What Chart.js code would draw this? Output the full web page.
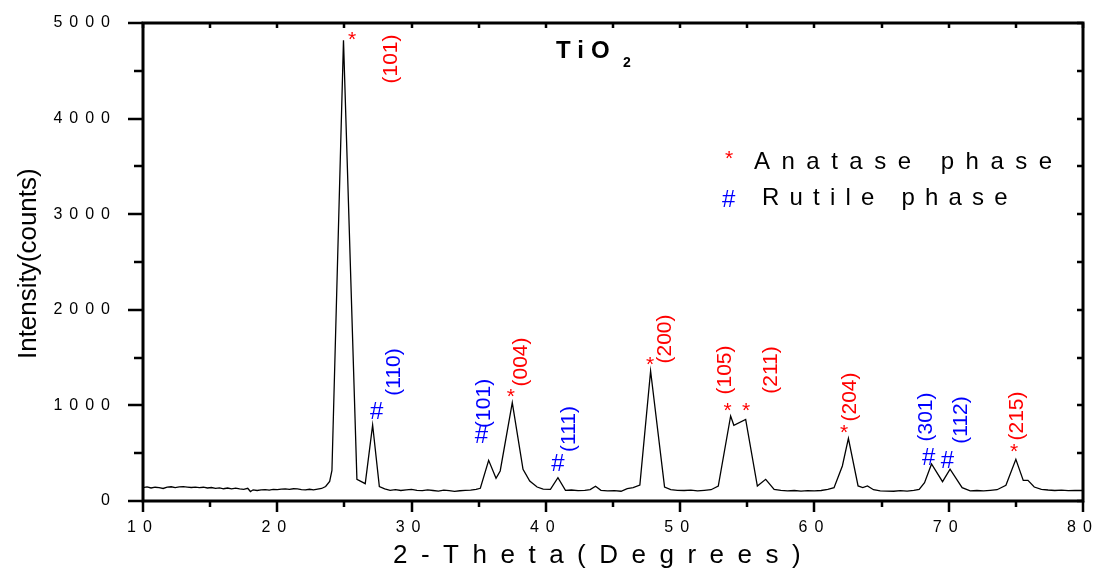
<!DOCTYPE html>
<html>
<head>
<meta charset="utf-8">
<title>TiO2 XRD pattern</title>
<script src="https://cdn.jsdelivr.net/npm/chart.js@4/dist/chart.umd.min.js"></script>
<style>
  html, body { margin: 0; padding: 0; background: #ffffff; }
  #plot { display: block; }
</style>
</head>
<body>
<canvas id="plot" width="1097" height="571"></canvas>
<script>
// Diffraction angle (degrees, 2θ)
const twoTheta = [
  10.0, 10.3, 10.6, 10.9, 11.2, 11.5, 11.8, 12.1, 12.4, 12.7,
  13.0, 13.3, 13.6, 13.9, 14.2, 14.5, 14.8, 15.1, 15.4, 15.7,
  16.0, 16.3, 16.6, 16.9, 17.2, 17.5, 17.8, 18.0, 18.2, 18.5,
  18.8, 19.1, 19.4, 19.7, 20.0, 20.3, 20.6, 20.9, 21.2, 21.5,
  21.8, 22.1, 22.4, 22.7, 23.0, 23.3, 23.6, 23.9, 24.07, 24.93,
  25.93, 26.55, 27.1, 27.6, 28.0, 28.4, 28.8, 29.2, 29.6, 30.0,
  30.4, 30.8, 31.2, 31.6, 32.0, 32.4, 32.8, 33.2, 33.6, 34.0,
  34.4, 34.8, 35.12, 35.74, 36.29, 36.6, 37.5, 38.3, 38.8, 39.35,
  39.8, 40.34, 40.9, 41.46, 41.9, 42.4, 42.9, 43.3, 43.7, 44.1,
  44.6, 45.1, 45.6, 46.06, 46.5, 47.0, 47.8, 48.84, 49.3, 49.8,
  50.3, 50.8, 51.3, 51.8, 52.3, 52.84, 53.76, 54.0, 54.88, 55.75,
  56.37, 57.0, 57.5, 58.0, 58.5, 59.0, 59.5, 60.0, 60.5, 61.0,
  61.46, 62.08, 62.53, 63.25, 63.6, 63.95, 64.4, 64.9, 65.4, 65.9,
  66.4, 66.9, 67.4, 67.8, 68.2, 68.72, 69.54, 70.1, 71.0, 71.6,
  72.1, 72.6, 73.1, 73.6, 74.26, 75.0, 75.55, 75.9, 76.37, 76.9,
  77.4, 77.9, 78.4, 78.9, 79.4, 80.0
];

// Measured intensity (counts)
const intensity = [
  140, 148, 136, 144, 139, 131, 146, 149, 140, 147,
  150, 146, 141, 145, 139, 144, 136, 141, 132, 138,
  128, 136, 126, 134, 127, 121, 133, 99, 117, 110,
  116, 119, 114, 121, 118, 124, 127, 122, 128, 126,
  120, 117, 123, 116, 124, 131, 152, 205, 320, 4819,
  227, 181, 795, 150, 126, 112, 118, 110, 116, 121,
  112, 108, 117, 110, 104, 113, 108, 101, 107, 111,
  114, 121, 133, 425, 237, 314, 1028, 331, 209, 146,
  125, 122, 244, 112, 115, 108, 112, 119, 155, 112,
  105, 108, 102, 129, 140, 167, 1360, 146, 118, 112,
  110, 114, 106, 112, 118, 157, 889, 792, 854, 157,
  227, 122, 112, 106, 110, 104, 108, 106, 110, 121,
  139, 366, 656, 157, 141, 157, 118, 106, 104, 102,
  108, 104, 112, 122, 192, 387, 202, 332, 139, 105,
  110, 106, 112, 118, 164, 436, 216, 216, 146, 122,
  115, 110, 114, 108, 112, 110
];

// Axis ticks
const xMajorTicks = [10, 20, 30, 40, 50, 60, 70, 80];
const xMinorTicks = [15, 25, 35, 45, 55, 65, 75];
const yMajorTicks = [0, 1000, 2000, 3000, 4000, 5000];
const yMinorTicks = [500, 1500, 2500, 3500, 4500];

// Indexed reflections: peak position (2θ), phase and Miller indices
const reflectionAt    = [24.93, 27.1, 35.74, 37.5, 40.9, 47.8, 53.76, 54.88, 62.53, 68.72, 70.1, 75.0];
const reflectionPhase = ['A', 'R', 'R', 'A', 'R', 'A', 'A', 'A', 'A', 'R', 'R', 'A'];
const reflectionHkl   = ['(101)', '(110)', '(101)', '(004)', '(111)', '(200)', '(105)', '(211)', '(204)', '(301)', '(112)', '(215)'];

// Text
const sampleName = 'TiO';
const sampleSub = '2';
const legendNames = ['Anatase phase', 'Rutile phase'];
const xTitle = '2-Theta(Degrees)';
const yTitle = 'Intensity(counts)';

// ---- presentation ----
const FONT = '"Liberation Sans", Arial, sans-serif';
const RED = '#ff0000';
const BLUE = '#0000ff';
const phaseStyle = { A: { sym: '*', color: RED, size: 21 }, R: { sym: '#', color: BLUE, size: 24 } };

// label placement relative to the peak top: [symbol dx, symbol dy, text dx, text dy]
const labelOffsets = [
  [8.5, -4.3, 48.5, 18.7],
  [4.4, -14.3, 21.4, -53],
  [-7, -25.4, -3.7, -57],
  [-1.6, -9.7, 9.4, -40.7],
  [0.3, -14.7, 12, -48.7],
  [-0.6, -10, 14.4, -32],
  [-3.2, -9.3, -5.5, -46],
  [0.4, -12.7, 26.1, -49.4],
  [-4.4, -9, 1.6, -41.3],
  [-2.5, -8, -5.5, -47],
  [-2.3, -10, 11.7, -49.3],
  [-1.9, -11, 2.1, -43.3]
];

function glyphBox(ctx, text) {
  const m = ctx.measureText(text);
  return { asc: m.actualBoundingBoxAscent, desc: m.actualBoundingBoxDescent,
           left: m.actualBoundingBoxLeft, right: m.actualBoundingBoxRight };
}

// draw text so that its ink box is centred on (cx, cy)
function centredText(ctx, text, cx, cy) {
  ctx.textAlign = 'left';
  ctx.textBaseline = 'alphabetic';
  const b = glyphBox(ctx, text);
  const w = b.left + b.right;
  ctx.fillText(text, cx - w / 2 + b.left, cy + (b.asc - b.desc) / 2);
}

// vertical text reading bottom-to-top, ink box centred on (cx, cy)
function verticalText(ctx, text, cx, cy) {
  ctx.save();
  ctx.translate(cx, cy);
  ctx.rotate(-Math.PI / 2);
  centredText(ctx, text, 0, 0);
  ctx.restore();
}

// keep the plot area fixed regardless of tick label overhang
function fixScale(size, key) {
  return s => {
    s[key] = size;
    s.paddingTop = 0; s.paddingBottom = 0; s.paddingLeft = 0; s.paddingRight = 0;
  };
}

const frameAndLabels = {
  id: 'frameAndLabels',
  beforeDraw(chart) {
    chart.ctx.letterSpacing = '7px';
  },
  beforeDatasetsDraw(chart) {
    chart.ctx.letterSpacing = '0px';
  },
  afterDraw(chart) {
    const ctx = chart.ctx;
    const { left, right, top, bottom } = chart.chartArea;
    const xs = chart.scales.x, ys = chart.scales.y;
    ctx.save();
    ctx.letterSpacing = '0px';
    ctx.strokeStyle = '#000';
    ctx.lineCap = 'butt';

    // axis frame
    ctx.lineWidth = 3;
    ctx.beginPath();
    ctx.moveTo(left, top); ctx.lineTo(right, top);
    ctx.moveTo(right, top - 1.5); ctx.lineTo(right, bottom + 1.5);
    ctx.moveTo(left, bottom); ctx.lineTo(right + 1.5, bottom);
    ctx.moveTo(left, top - 1.5); ctx.lineTo(left, bottom + 1.5);
    ctx.stroke();

    // ticks
    ctx.lineWidth = 2.5;
    ctx.beginPath();
    yMajorTicks.concat(yMinorTicks).forEach(v => {
      const py = Math.round(ys.getPixelForValue(v));
      const len = yMajorTicks.includes(v) ? 15 : 9;
      ctx.moveTo(left, py); ctx.lineTo(left - len, py);
      ctx.moveTo(right, py); ctx.lineTo(right - 6, py);
    });
    xMajorTicks.concat(xMinorTicks).forEach(v => {
      const px = Math.round(xs.getPixelForValue(v));
      const len = xMajorTicks.includes(v) ? 11 : 6;
      ctx.moveTo(px, bottom); ctx.lineTo(px, bottom + len);
      ctx.moveTo(px, top); ctx.lineTo(px, top + 5);
    });
    ctx.stroke();

    // reflection labels
    reflectionAt.forEach((pos, i) => {
      const peak = intensity[twoTheta.indexOf(pos)];
      const px = xs.getPixelForValue(pos);
      const py = ys.getPixelForValue(peak);
      const st = phaseStyle[reflectionPhase[i]];
      const o = labelOffsets[i];
      ctx.fillStyle = st.color;
      ctx.font = st.size + 'px ' + FONT;
      centredText(ctx, st.sym, px + o[0], py + o[1]);
      ctx.font = '21px ' + FONT;
      verticalText(ctx, reflectionHkl[i], px + o[2], py + o[3]);
    });

    // sample name
    ctx.fillStyle = '#000';
    ctx.textAlign = 'left';
    ctx.textBaseline = 'alphabetic';
    ctx.font = 'bold 24px ' + FONT;
    ctx.letterSpacing = '7px';
    ctx.fillText(sampleName, 556, 58);
    ctx.font = 'bold 14px ' + FONT;
    ctx.letterSpacing = '0px';
    ctx.fillText(sampleSub, 623, 66.5);

    // phase key
    ctx.font = '21px ' + FONT;
    ctx.fillStyle = RED;
    centredText(ctx, '*', 729, 155);
    ctx.font = '24px ' + FONT;
    ctx.fillStyle = BLUE;
    centredText(ctx, '#', 729, 198);
    ctx.fillStyle = '#000';
    ctx.textAlign = 'left';
    ctx.textBaseline = 'alphabetic';
    ctx.letterSpacing = '11.5px';
    ctx.fillText(legendNames[0], 754, 169);
    ctx.letterSpacing = '10.2px';
    ctx.fillText(legendNames[1], 762, 205);

    // axis titles
    ctx.font = '26px ' + FONT;
    ctx.letterSpacing = '13.5px';
    ctx.fillText(xTitle, 393, 563);
    ctx.letterSpacing = '0px';
    verticalText(ctx, yTitle, 29, 263);
    ctx.restore();
  }
};

const plainLabel = v => String(v);

new Chart(document.getElementById('plot'), {
  type: 'line',
  data: {
    datasets: [{
      data: twoTheta.map((t, i) => ({ x: t, y: intensity[i] })),
      borderColor: '#000',
      borderWidth: 1.3,
      pointRadius: 0,
      tension: 0,
      fill: false
    }]
  },
  options: {
    responsive: false,
    animation: false,
    devicePixelRatio: 1,
    layout: { autoPadding: false, padding: { left: 0, right: 14, top: 23, bottom: 0 } },
    plugins: { legend: { display: false }, tooltip: { enabled: false } },
    scales: {
      x: {
        type: 'linear', min: 10, max: 80,
        afterBuildTicks: s => { s.ticks = xMajorTicks.map(v => ({ value: v })); },
        afterFit: fixScale(70, 'height'),
        grid: { display: false, drawTicks: false },
        border: { display: false },
        ticks: { color: '#000', font: { family: FONT, size: 16 }, padding: 17,
                 maxRotation: 0, autoSkip: false, callback: plainLabel }
      },
      y: {
        type: 'linear', min: 0, max: 5000,
        afterBuildTicks: s => { s.ticks = yMajorTicks.map(v => ({ value: v })); },
        afterFit: fixScale(143, 'width'),
        grid: { display: false, drawTicks: false },
        border: { display: false },
        ticks: { color: '#000', font: { family: FONT, size: 16 }, padding: 26,
                 autoSkip: false, callback: plainLabel }
      }
    }
  },
  plugins: [frameAndLabels]
});
</script>
</body>
</html>
